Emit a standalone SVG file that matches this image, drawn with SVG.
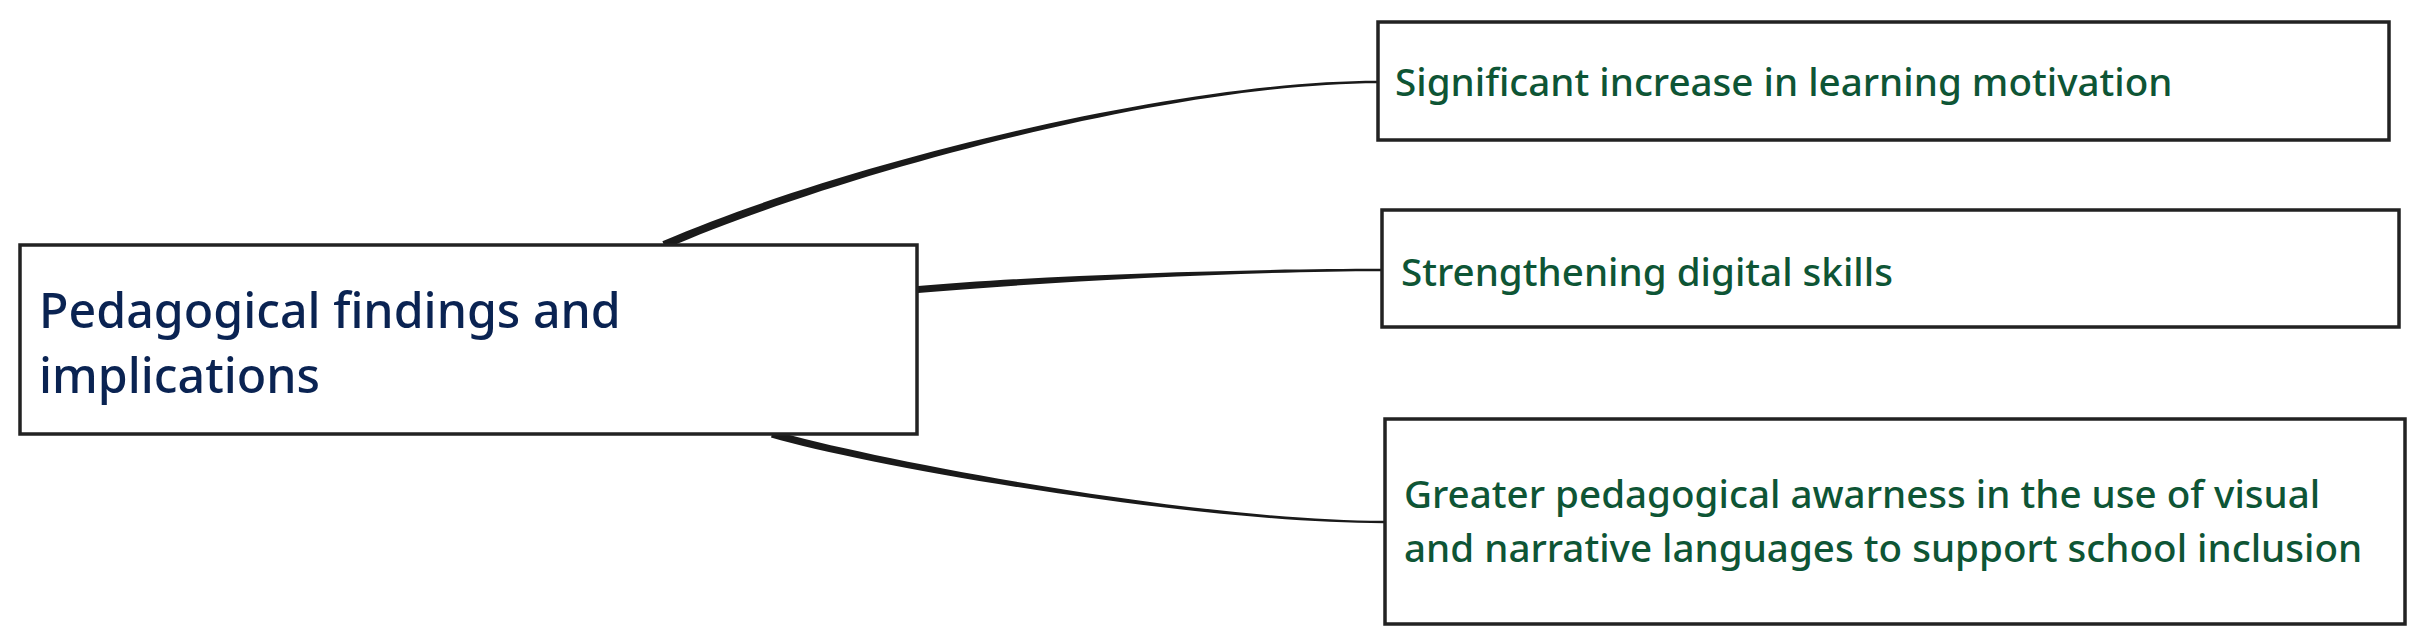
<svg xmlns="http://www.w3.org/2000/svg" width="2420" height="636" viewBox="0 0 2420 636">
<style>
.box{fill:#ffffff;stroke:#222222;stroke-width:3.5}
.conn{fill:#1a1a1a;stroke:none}
.t-main{font-family:"Noto Sans","Open Sans",sans-serif;font-size:48.3px;font-weight:500;fill:#0a2352}
.t-sub{font-family:"Noto Sans","Open Sans",sans-serif;font-size:38.6px;font-weight:500;fill:#0e5535}
</style>
<rect x="0" y="0" width="2420" height="636" fill="#ffffff"/>
<g id="connectors">
<path class="conn" d="M662.4,241.3 C848.4,161.3 1180,80.8 1378,80.8 L1378,83.2 C1180,83.2 851.6,168.7 665.6,248.7 Z"/>
<path class="conn" d="M912,286.5 C1049.7,274.5 1250,268.8 1382,268.8 L1382,271.2 C1250,271.2 1050.3,281.5 912,293.5 Z"/>
<path class="conn" d="M773,430.6 C881,461.6 1200,520.8 1384,520.8 L1384,523.2 C1200,523.2 879,468.4 771,437.4 Z"/>
</g>
<g id="node-main">
<rect class="box" x="20" y="245" width="897" height="189"/>
<text class="t-main" x="39" y="328">Pedagogical findings and</text>
<text class="t-main" x="39" y="393">implications</text>
</g>
<g id="node-motivation">
<rect class="box" x="1378" y="22" width="1011" height="118"/>
<text class="t-sub" x="1395" y="96">Significant increase in learning motivation</text>
</g>
<g id="node-digital">
<rect class="box" x="1382" y="210" width="1017" height="117"/>
<text class="t-sub" x="1401" y="286">Strengthening digital skills</text>
</g>
<g id="node-awareness">
<rect class="box" x="1385" y="419" width="1020" height="205"/>
<text class="t-sub" x="1404" y="508">Greater pedagogical awarness in the use of visual</text>
<text class="t-sub" x="1404" y="562">and narrative languages to support school inclusion</text>
</g>
</svg>
